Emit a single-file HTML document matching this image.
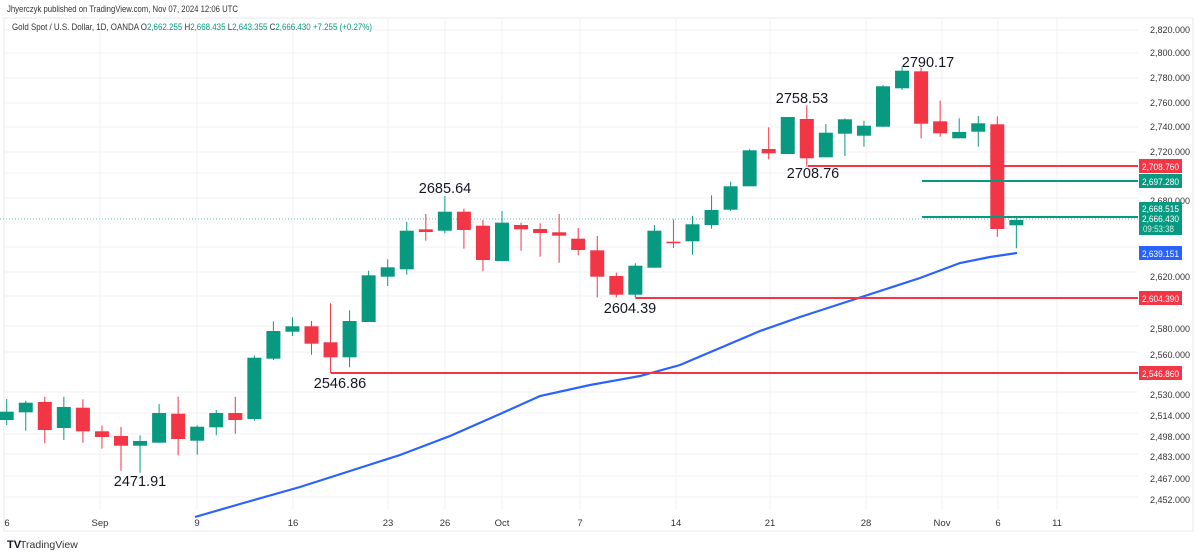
<!DOCTYPE html>
<html><head><meta charset="utf-8"><style>
body{margin:0;background:#fff;width:1200px;height:555px;overflow:hidden;font-family:"Liberation Sans",sans-serif}
svg{position:absolute;left:0;top:0}
</style></head><body>
<svg id="s" width="1200" height="555" xmlns="http://www.w3.org/2000/svg" font-family="Liberation Sans, sans-serif">
<text x="7" y="12" font-size="9.5" fill="#333" textLength="231" lengthAdjust="spacingAndGlyphs">Jhyerczyk published on TradingView.com, Nov 07, 2024 12:06 UTC</text>
<rect x="4" y="18" width="1189" height="513" fill="none" stroke="#e6e8ee" stroke-width="1"/>
<g id="grid" stroke="#f0f2f5" stroke-width="1"></g>
<text x="12" y="30" font-size="9" fill="#333" textLength="360" lengthAdjust="spacingAndGlyphs">Gold Spot / U.S. Dollar, 1D, OANDA  O<tspan fill="#089981">2,662.255</tspan>  H<tspan fill="#089981">2,668.435</tspan>  L<tspan fill="#089981">2,643.355</tspan>  C<tspan fill="#089981">2,666.430  +7.255 (+0.27%)</tspan></text>
<line x1="0" y1="219" x2="1138" y2="219" stroke="#089981" stroke-width="1" stroke-dasharray="1,2" opacity="0.6"/>
<g id="c"></g>
<polyline fill="none" stroke="#2962ff" stroke-width="2.2" points="195,517 240,504 300,487 350,471 400,455 450,436 500,414 540,396 590,385 640,376 680,365 720,348 760,331 800,317 840,304 880,291 920,278 960,263 990,257 1017,253"/>
<g stroke-width="2">
<line x1="808" y1="166" x2="1138" y2="166" stroke="#f23645"/>
<line x1="922" y1="181" x2="1138" y2="181" stroke="#089981"/>
<line x1="922" y1="217" x2="1138" y2="217" stroke="#089981"/>
<line x1="636" y1="298" x2="1138" y2="298" stroke="#f23645"/>
<line x1="331" y1="373" x2="1138" y2="373" stroke="#f23645"/>
</g>
<g font-size="14.5" fill="#131722" text-anchor="middle">
<text x="445" y="193">2685.64</text>
<text x="340" y="388">2546.86</text>
<text x="140" y="486">2471.91</text>
<text x="630" y="313">2604.39</text>
<text x="802" y="103">2758.53</text>
<text x="813" y="178">2708.76</text>
<text x="928" y="67">2790.17</text>
</g>
<g font-size="9" fill="#333" text-anchor="end">
<text x="1190" y="33">2,820.000</text>
<text x="1190" y="56">2,800.000</text>
<text x="1190" y="81">2,780.000</text>
<text x="1190" y="106">2,760.000</text>
<text x="1190" y="130">2,740.000</text>
<text x="1190" y="155">2,720.000</text>
<text x="1190" y="204">2,680.000</text>
<text x="1190" y="280">2,620.000</text>
<text x="1190" y="332">2,580.000</text>
<text x="1190" y="358">2,560.000</text>
<text x="1190" y="398">2,530.000</text>
<text x="1190" y="419">2,514.000</text>
<text x="1190" y="440">2,498.000</text>
<text x="1190" y="460">2,483.000</text>
<text x="1190" y="482">2,467.000</text>
<text x="1190" y="503">2,452.000</text>
</g>
<g font-size="9" fill="#fff">
<rect x="1139" y="159" width="43" height="14" fill="#f23645"/><text x="1142" y="170" textLength="37" lengthAdjust="spacingAndGlyphs">2,708.760</text>
<rect x="1139" y="174" width="43" height="14" fill="#089981"/><text x="1142" y="185" textLength="37" lengthAdjust="spacingAndGlyphs">2,697.280</text>
<rect x="1139" y="202" width="43" height="33" fill="#089981"/><text x="1142" y="212" textLength="37" lengthAdjust="spacingAndGlyphs">2,668.515</text><text x="1142" y="222" textLength="37" lengthAdjust="spacingAndGlyphs">2,666.430</text><text x="1143" y="232" fill="#d0f0e8" textLength="31" lengthAdjust="spacingAndGlyphs">09:53:38</text>
<rect x="1139" y="246" width="43" height="14" fill="#2962ff"/><text x="1142" y="257" textLength="37" lengthAdjust="spacingAndGlyphs">2,639.151</text>
<rect x="1139" y="291" width="43" height="14" fill="#f23645"/><text x="1142" y="302" textLength="37" lengthAdjust="spacingAndGlyphs">2,604.390</text>
<rect x="1139" y="366" width="43" height="14" fill="#f23645"/><text x="1142" y="377" textLength="37" lengthAdjust="spacingAndGlyphs">2,546.860</text>
</g>
<g font-size="9.5" fill="#333" text-anchor="middle">
<text x="7" y="526">6</text><text x="100" y="526">Sep</text><text x="197" y="526">9</text><text x="293" y="526">16</text><text x="388" y="526">23</text><text x="445" y="526">26</text><text x="502" y="526">Oct</text><text x="580" y="526">7</text><text x="676" y="526">14</text><text x="770" y="526">21</text><text x="866" y="526">28</text><text x="942" y="526">Nov</text><text x="998" y="526">6</text><text x="1057" y="526">11</text>
</g>
<text x="7" y="548" font-size="11" font-weight="bold" fill="#131722">TV</text>
<text x="20" y="548" font-size="10.5" fill="#333">TradingView</text>
</svg>
<script>
var ns="http://www.w3.org/2000/svg";
var g=document.getElementById("grid");
[33,56,81,106,130,155,176,201,225,250,275,299,329,355,395,416,437,457,479,500].forEach(function(y){var l=document.createElementNS(ns,"line");l.setAttribute("x1",4);l.setAttribute("x2",1138);l.setAttribute("y1",y-3);l.setAttribute("y2",y-3);g.appendChild(l);});
[100,197,293,388,445,502,580,676,770,866,942,998,1057].forEach(function(x){var l=document.createElementNS(ns,"line");l.setAttribute("x1",x);l.setAttribute("x2",x);l.setAttribute("y1",18);l.setAttribute("y2",510);g.appendChild(l);});
var d=[
["g",411.7,420,399,425],["g",402.7,412.3,400.7,430.7],["r",402,430,396.7,443.3],["g",407,428,396.7,440],["r",407.7,431.3,399.3,442.7],
["r",431.3,437,425.7,448.7],["r",436,445.7,427,470.7],["g",441,445.7,435.3,472.7],["g",413,442.7,404,442.7],["r",413.7,439,396.7,455.3],
["g",426.7,440.7,425.3,454.7],["g",413,427.3,410,435.3],["r",413,420,396.7,433.7],["g",357.7,419,355.3,420.7],["g",331,358.7,321.3,360],
["g",326.3,331.7,317.3,336],["r",326.3,343.7,321,354.7],["r",342.3,357.3,303.3,373.3],["g",321,357.3,310.3,367.3],["g",275.3,322,270.7,322],
["g",267.3,276.7,259.3,286],["g",230.7,269.3,222,274.7],["r",229.3,232,214,240.7],["g",211.7,230.7,196,233.3],["r",211.7,230,208.7,248.7],
["r",225.7,260,220,271.3],["g",222.7,261,211,261],["r",225,229.3,222.7,250.7],["r",229,233,223.3,256.7],["r",232.3,235.7,214,262.7],
["r",238.7,250,228,255.3],["r",250.3,276.7,236,297.3],["r",276,294.7,272.7,297.3],["g",265.7,294.7,263.3,298.7],["g",230.7,267.7,225,267.7],
["r",241.7,242.7,219.3,248],["g",224.3,241.3,216,254.7],["g",210,225,195.3,228.7],["g",186.3,209.7,181.7,211],["g",150.3,186.3,149.3,186.3],
["r",149,153.3,127.3,159.3],["g",117,154,117,154],["r",119,158.3,105.3,166.7],["g",132.7,157.3,124,157.3],["g",119.3,133.7,118.3,156],
["g",125.7,135.7,120.7,146.7],["g",86.3,126.7,85,127],["g",70.7,88.3,66.7,90],["r",71.3,123.7,67.7,138.3],["r",121.3,133.3,100.7,136.7],
["g",132,138.3,118.3,138.3],["g",123.3,131.7,116,146.7],["r",124.3,229,116.3,236.7],["g",220,225.3,217.3,248.3]];
var c=document.getElementById("c");
d.forEach(function(k,i){var x=6.7+19.05*i;var col=k[0]=="g"?"#089981":"#f23645";
var w=document.createElementNS(ns,"line");w.setAttribute("x1",x);w.setAttribute("x2",x);w.setAttribute("y1",k[3]);w.setAttribute("y2",k[4]);w.setAttribute("stroke",col);w.setAttribute("stroke-width",1);c.appendChild(w);
var r=document.createElementNS(ns,"rect");var h=Math.max(k[2]-k[1],1.5);r.setAttribute("x",x-7);r.setAttribute("y",k[1]);r.setAttribute("width",14);r.setAttribute("height",h);r.setAttribute("fill",col);c.appendChild(r);});
</script>
</body></html>
